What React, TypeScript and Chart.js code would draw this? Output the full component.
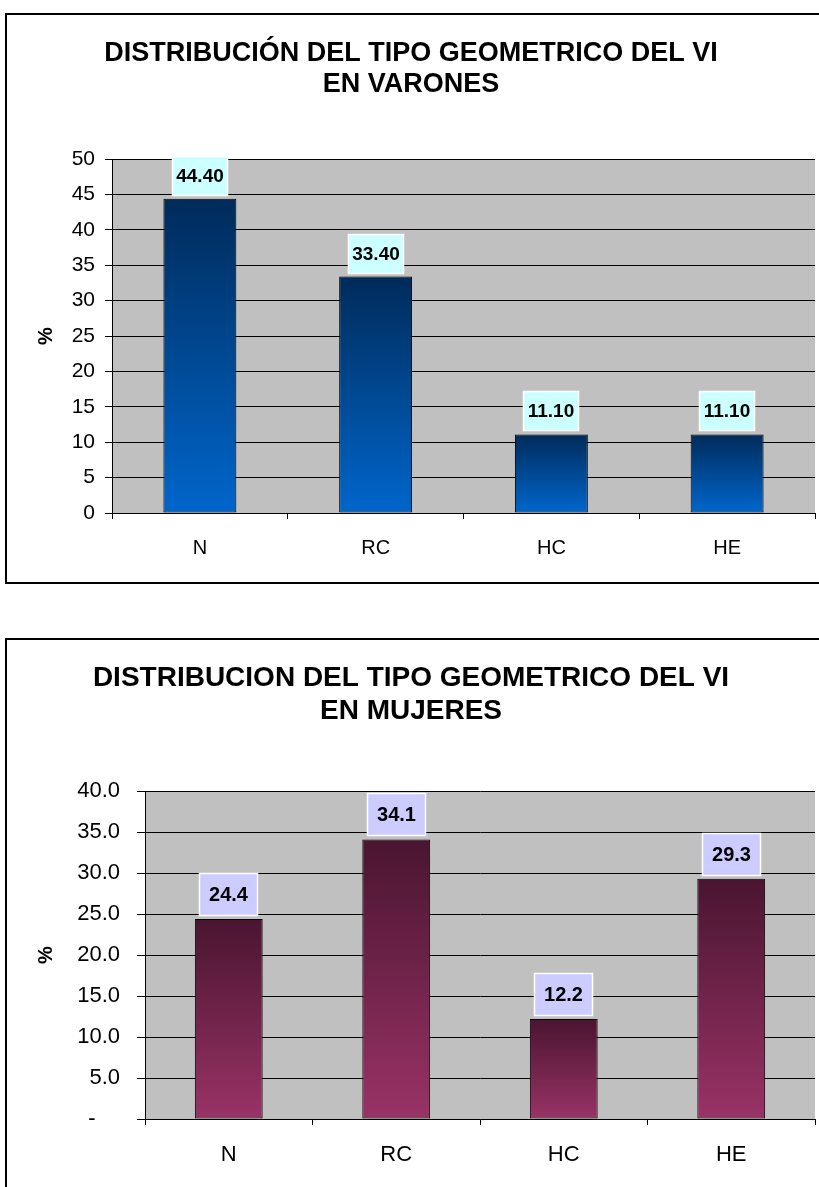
import React, { useEffect, useRef } from 'react';
import { Chart, registerables } from 'chart.js';

Chart.register(...registerables);

// ---------- DATA ----------
const categories = ['N', 'RC', 'HC', 'HE'];
const varonesValues = [44.4, 33.4, 11.1, 11.1];
const mujeresValues = [24.4, 34.1, 12.2, 29.3];
const varonesTitle = ['DISTRIBUCIÓN DEL TIPO GEOMETRICO DEL VI', 'EN VARONES'];
const mujeresTitle = ['DISTRIBUCION DEL TIPO GEOMETRICO DEL VI', 'EN MUJERES'];
const yAxisTitle = '%';
const varonesYMax = 50;
const varonesYStep = 5;
const mujeresYMax = 40;
const mujeresYStep = 5;

const FONT = '"Liberation Sans", Arial, Helvetica, sans-serif';

type Cfg = {
  title: string[];
  values: number[];
  decimals: number;
  yMax: number;
  yStep: number;
  tickFormat: (v: number) => string;
  gradTop: string;
  gradBottom: string;
  labelBg: string;
  canvasW: number;
  canvasH: number;
  yAxisW: number;
  plotRight: number;
  plotTop: number;
  plotBottom: number;
  titleSize: number;
  titleLH: number;
  titleMid: number;
  tickSize: number;
  tickLen: number;
  tickPad: number;
  xTickSize: number;
  xTickPad: number;
  xTickLen: number;
  barPct: number;
  boxW: number;
  boxH: number;
  boxGap: number;
  labelSize: number;
  yTitleSize: number;
  yTitleX: number;
};

function BarChart({ cfg }: { cfg: Cfg }) {
  const ref = useRef<HTMLCanvasElement | null>(null);
  useEffect(() => {
    if (!ref.current) return;
    const titleLineH = cfg.titleLH;
    const padTop = cfg.titleMid - titleLineH / 2;
    const padBottom = cfg.plotTop - padTop - titleLineH * cfg.title.length;
    const yTitleLH = cfg.yTitleSize * 1.2;

    const bgPlugin = {
      id: 'plotBg',
      beforeDraw(chart: any) {
        const { ctx, chartArea } = chart;
        if (!chartArea) return;
        ctx.save();
        ctx.fillStyle = '#C0C0C0';
        ctx.fillRect(chartArea.left, chartArea.top, chartArea.right - chartArea.left, chartArea.bottom - chartArea.top);
        ctx.restore();
      },
    };

    const labelPlugin = {
      id: 'valueLabels',
      afterDatasetsDraw(chart: any) {
        const { ctx } = chart;
        const meta = chart.getDatasetMeta(0);
        const ds = chart.data.datasets[0].data as number[];
        ctx.save();
        meta.data.forEach((bar: any, i: number) => {
          const text = ds[i].toFixed(cfg.decimals);
          const bx = Math.round(bar.x - cfg.boxW / 2);
          const by = Math.round(bar.y - cfg.boxGap - cfg.boxH);
          ctx.fillStyle = cfg.labelBg;
          ctx.fillRect(bx, by, cfg.boxW, cfg.boxH);
          ctx.strokeStyle = '#FFFFFF';
          ctx.lineWidth = 1.5;
          ctx.strokeRect(bx + 0.5, by + 0.5, cfg.boxW - 1, cfg.boxH - 1);
          ctx.fillStyle = '#000000';
          ctx.font = `bold ${cfg.labelSize}px ${FONT}`;
          ctx.textAlign = 'center';
          ctx.textBaseline = 'middle';
          ctx.fillText(text, bx + cfg.boxW / 2, by + cfg.boxH / 2 + 1);
        });
        ctx.restore();
      },
    };

    const chart = new Chart(ref.current, {
      type: 'bar',
      data: {
        labels: categories,
        datasets: [
          {
            data: cfg.values,
            backgroundColor: (c: any) => {
              const ch = c.chart;
              if (!ch.chartArea || c.type !== 'data') return cfg.gradBottom;
              const ys = ch.scales.y;
              const top = ys.getPixelForValue(c.raw as number);
              const bottom = ys.getPixelForValue(0);
              const g = ch.ctx.createLinearGradient(0, top, 0, bottom);
              g.addColorStop(0, cfg.gradTop);
              g.addColorStop(1, cfg.gradBottom);
              return g;
            },
            borderColor: '#000000',
            borderWidth: 1,
            borderSkipped: false,
            categoryPercentage: 1,
            barPercentage: cfg.barPct,
          },
        ],
      },
      options: {
        animation: false,
        responsive: false,
        maintainAspectRatio: false,
        devicePixelRatio: 1,
        layout: { padding: { left: 0, right: cfg.canvasW - cfg.plotRight, top: 0, bottom: 0 } },
        plugins: {
          legend: { display: false },
          tooltip: { enabled: false },
          title: {
            display: true,
            text: cfg.title,
            color: '#000000',
            font: { family: FONT, size: cfg.titleSize, weight: 'bold', lineHeight: titleLineH / cfg.titleSize },
            padding: { top: padTop, bottom: padBottom },
          },
        },
        scales: {
          x: {
            ticks: { color: '#000000', font: { family: FONT, size: cfg.xTickSize }, padding: cfg.xTickPad },
            grid: { drawOnChartArea: false, drawTicks: true, tickLength: cfg.xTickLen, color: '#000000', offset: true },
            border: { display: true, color: '#000000', width: 1 },
            afterFit: (s: any) => {
              s.height = cfg.canvasH - cfg.plotBottom;
            },
          },
          y: {
            min: 0,
            max: cfg.yMax,
            ticks: {
              stepSize: cfg.yStep,
              color: '#000000',
              font: { family: FONT, size: cfg.tickSize },
              padding: cfg.tickPad,
              callback: (v: any) => cfg.tickFormat(Number(v)),
            },
            grid: { color: '#000000', lineWidth: 1, drawTicks: true, tickLength: cfg.tickLen },
            border: { display: true, color: '#000000', width: 1 },
            title: {
              display: true,
              text: yAxisTitle,
              color: '#000000',
              font: { family: FONT, size: cfg.yTitleSize, weight: 'bold', lineHeight: 1.2 },
              padding: { top: cfg.yTitleX - yTitleLH / 2, bottom: 0 },
            },
            afterFit: (s: any) => {
              s.width = cfg.yAxisW;
            },
          },
        },
      } as any,
      plugins: [bgPlugin, labelPlugin],
    });
    return () => chart.destroy();
  }, [cfg]);
  return (
    <canvas
      ref={ref}
      width={cfg.canvasW}
      height={cfg.canvasH}
      style={{ display: 'block', width: cfg.canvasW, height: cfg.canvasH }}
    />
  );
}

const topCfg: Cfg = {
  title: varonesTitle,
  values: varonesValues,
  decimals: 2,
  yMax: varonesYMax,
  yStep: varonesYStep,
  tickFormat: (v) => String(v),
  gradTop: '#002B5A',
  gradBottom: '#0066CC',
  labelBg: '#CCFFFF',
  canvasW: 824,
  canvasH: 567,
  yAxisW: 105,
  plotRight: 808,
  plotTop: 144,
  plotBottom: 498,
  titleSize: 27,
  titleLH: 31,
  titleMid: 38.5,
  tickSize: 21,
  tickLen: 7,
  tickPad: 10,
  xTickSize: 20,
  xTickPad: 17,
  xTickLen: 6,
  barPct: 0.415,
  boxW: 56,
  boxH: 40,
  boxGap: 3,
  labelSize: 19,
  yTitleSize: 20,
  yTitleX: 39,
};

const bottomCfg: Cfg = {
  title: mujeresTitle,
  values: mujeresValues,
  decimals: 1,
  yMax: mujeresYMax,
  yStep: mujeresYStep,
  tickFormat: (v) => (v === 0 ? '-    ' : v.toFixed(1)),
  gradTop: '#4A1530',
  gradBottom: '#993366',
  labelBg: '#CCCCFF',
  canvasW: 824,
  canvasH: 547,
  yAxisW: 138,
  plotRight: 808,
  plotTop: 151,
  plotBottom: 479,
  titleSize: 28,
  titleLH: 33,
  titleMid: 38,
  tickSize: 22,
  tickLen: 8,
  tickPad: 17,
  xTickSize: 22,
  xTickPad: 17,
  xTickLen: 6,
  barPct: 0.405,
  boxW: 59,
  boxH: 43,
  boxGap: 3,
  labelSize: 20,
  yTitleSize: 20,
  yTitleX: 39,
};

export default function App() {
  return (
    <div
      style={{
        position: 'absolute',
        left: 0,
        top: 0,
        width: 819,
        height: 1187,
        overflow: 'hidden',
        background: '#FFFFFF',
      }}
    >
      <div
        style={{
          position: 'absolute',
          left: 5,
          top: 13,
          width: 840,
          height: 571,
          boxSizing: 'border-box',
          border: '2px solid #000000',
        }}
      >
        <BarChart cfg={topCfg} />
      </div>
      <div
        style={{
          position: 'absolute',
          left: 5,
          top: 638,
          width: 840,
          height: 600,
          boxSizing: 'border-box',
          border: '2px solid #000000',
        }}
      >
        <BarChart cfg={bottomCfg} />
      </div>
    </div>
  );
}
